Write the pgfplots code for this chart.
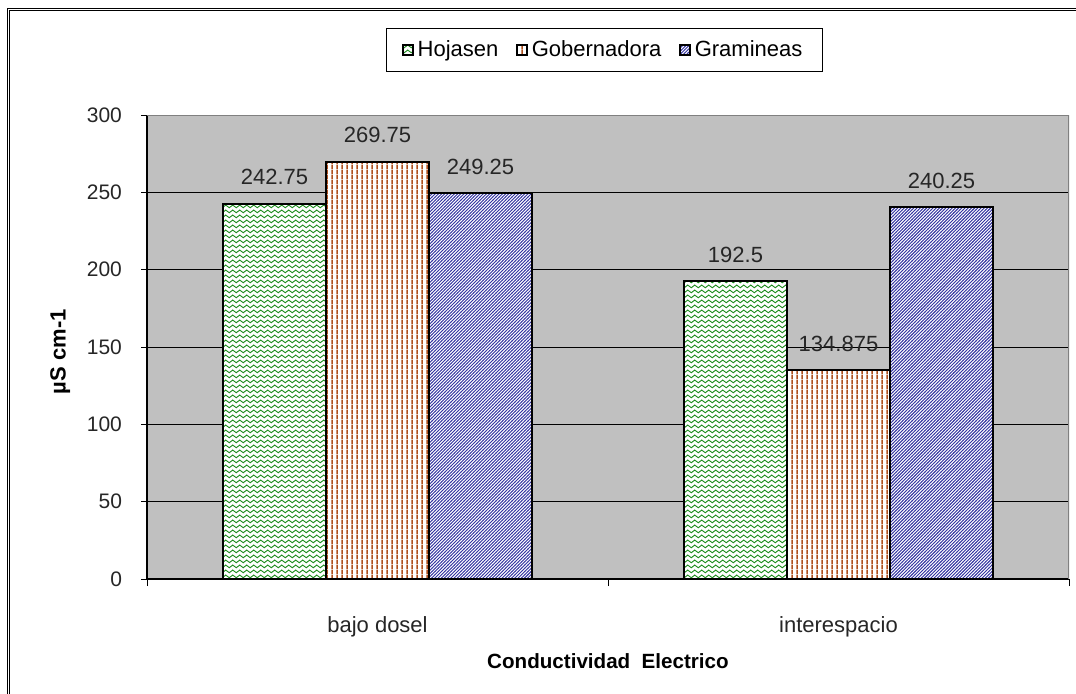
\documentclass[border=0pt]{standalone}
\usepackage{fontspec}
\setmainfont{Liberation Sans}
\usepackage{pgfplots}
\pgfplotsset{compat=1.18}
\usetikzlibrary{patterns}

\definecolor{plotgray}{RGB}{192,192,192}
\definecolor{bordergray}{RGB}{128,128,128}
\definecolor{hgreen}{RGB}{30,140,30}
\definecolor{gbrown}{RGB}{175,80,30}
\definecolor{gblue}{RGB}{50,50,160}

\pgfdeclarepatternformonly{myvlines}{\pgfpointorigin}{\pgfpoint{2.5pt}{2.5pt}}{\pgfpoint{2.5pt}{2.5pt}}{%
  \pgfsetlinewidth{0.85pt}%
  \pgfpathmoveto{\pgfpoint{1.25pt}{-0.1pt}}%
  \pgfpathlineto{\pgfpoint{1.25pt}{2.6pt}}%
  \pgfusepath{stroke}}
\pgfdeclarepatternformonly{mydiag}{\pgfpoint{-0.5pt}{-0.5pt}}{\pgfpoint{2.1pt}{2.1pt}}{\pgfpoint{1.6pt}{1.6pt}}{%
  \pgfsetlinewidth{0.45pt}%
  \pgfpathmoveto{\pgfpoint{-0.1pt}{-0.1pt}}%
  \pgfpathlineto{\pgfpoint{1.7pt}{1.7pt}}%
  \pgfusepath{stroke}}
\pgfdeclarepatternformonly{mywave}{\pgfpoint{-0.3pt}{-0.3pt}}{\pgfpoint{3.8pt}{2.8pt}}{\pgfpoint{3.5pt}{2.5pt}}{%
  \pgfsetlinewidth{0.45pt}%
  \pgfpathmoveto{\pgfpoint{0pt}{0.8pt}}%
  \pgfpathcurveto{\pgfpoint{0.6pt}{1.7pt}}{\pgfpoint{1.15pt}{1.7pt}}{\pgfpoint{1.75pt}{0.8pt}}%
  \pgfpathcurveto{\pgfpoint{2.35pt}{-0.1pt}}{\pgfpoint{2.9pt}{-0.1pt}}{\pgfpoint{3.5pt}{0.8pt}}%
  \pgfusepath{stroke}}

\begin{document}
\begin{tikzpicture}
\path[use as bounding box] (0,0) rectangle (538pt,346.5pt);
\draw[double, double distance=0.8pt, line width=0.45pt] (4.25pt,-1pt) -- (4.25pt,341.75pt) -- (539pt,341.75pt);
\begin{axis}[
  at={(73.5pt,57pt)}, anchor=south west,
  width=461pt, height=232pt, scale only axis,
  xmin=0, xmax=2, ymin=0, ymax=300,
  ybar=0pt, bar width=51.5pt,
  axis background/.style={fill=plotgray},
  axis x line*=bottom, axis y line*=left,
  axis line style={black, line width=0.6pt},
  tick align=outside,
  major tick length=3pt,
  /pgf/number format/assume math mode=true,
  ytick={0,50,...,300},
  ymajorgrids, grid style={black, line width=0.5pt},
  yticklabel style={font=\fontsize{10.5}{12}\selectfont, text=black!85, xshift=-6pt},
  ytick style={black, line width=0.5pt},
  xtick={0.5,1.5},
  xticklabels={bajo dosel,interespacio},
  xtick style={draw=none},
  xticklabel style={font=\fontsize{11}{13}\selectfont, text=black!85, yshift=-12pt},
  extra x ticks={0,1,2},
  extra x tick labels={},
  extra x tick style={xtick style={draw=black, line width=0.5pt}, major tick length=3.5pt, grid=none},
  xlabel={Conductividad\ \ Electrico},
  xlabel style={at={(axis description cs:0.5,-0.178)}, anchor=center, font=\bfseries\fontsize{10.3}{12}\selectfont},
  ylabel={µS cm-1},
  ylabel style={at={(axis description cs:-0.094,0.49)}, anchor=center, font=\bfseries\fontsize{11}{13}\selectfont},
  nodes near coords,
  nodes near coords style={font=\fontsize{11}{13}\selectfont, text=black!85, /pgf/number format/precision=3, yshift=5.5pt},
  legend style={at={(0.496,1.14)}, anchor=center, legend columns=3, draw=black, line width=0.5pt, fill=white,
    font=\fontsize{11}{13}\selectfont, inner xsep=8pt, inner ysep=4pt,
    /tikz/every even column/.append style={column sep=7pt}},
  legend image code/.code={\draw[#1, line width=0.7pt] (0pt,-2.5pt) rectangle (5pt,2.5pt);},
]
\addplot[fill=white, draw=black, line width=1pt, postaction={pattern=mywave, pattern color=hgreen}]
  coordinates {(0.5,242.75) (1.5,192.5)};
\addplot[fill=white, draw=black, line width=1pt, postaction={pattern=myvlines, pattern color=gbrown}]
  coordinates {(0.5,269.75) (1.5,134.875)};
\addplot[fill=white, draw=black, line width=1pt, postaction={pattern=mydiag, pattern color=gblue}]
  coordinates {(0.5,249.25) (1.5,240.25)};
\legend{Hojasen,Gobernadora,Gramineas}
\draw[bordergray, line width=0.6pt] (rel axis cs:0,1) -- (rel axis cs:1,1) -- (rel axis cs:1,0);
\end{axis}
\end{tikzpicture}
\end{document}
